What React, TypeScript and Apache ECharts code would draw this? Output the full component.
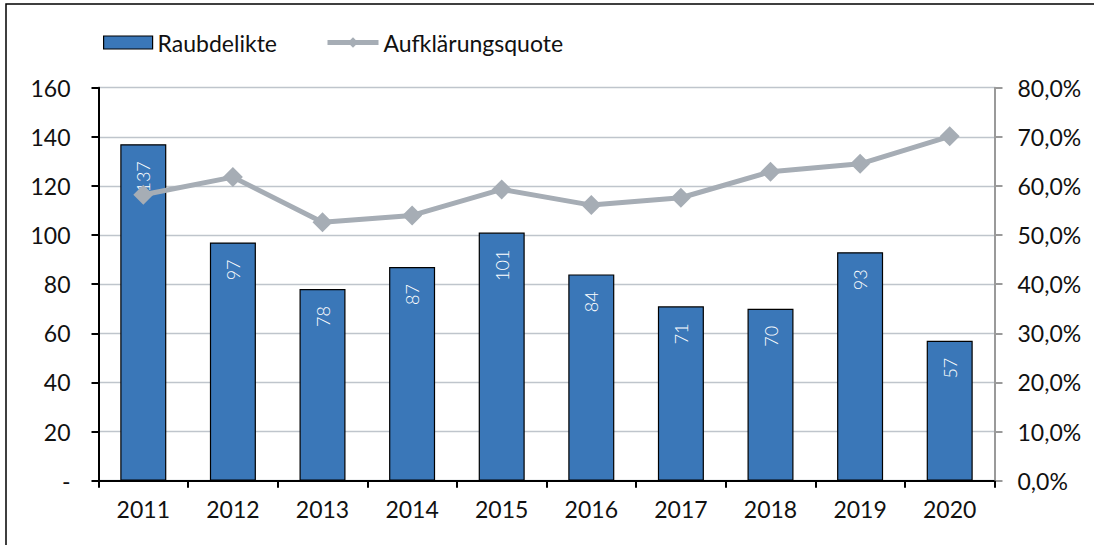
import React, { useEffect, useRef } from "react";
import * as echarts from "echarts";

const years = ["2011", "2012", "2013", "2014", "2015", "2016", "2017", "2018", "2019", "2020"];
const robberies = [137, 97, 78, 87, 101, 84, 71, 70, 93, 57];
const clearanceRate = [58.2, 61.8, 52.6, 54.0, 59.3, 56.1, 57.6, 62.9, 64.5, 70.1];

const FONT = "Lato";
const FS = 23;

export default function App() {
  const ref = useRef<HTMLDivElement>(null);
  useEffect(() => {
    document.body.style.margin = "0";
    const chart = echarts.init(ref.current!, null, { renderer: "svg" });
    chart.setOption({
      animation: false,
      backgroundColor: "#ffffff",
      textStyle: { fontFamily: FONT },
      graphic: [
        {
          type: "rect",
          shape: { x: 6, y: 4, width: 1200, height: 700 },
          style: { fill: "none", stroke: "#000000", lineWidth: 1.5 },
          silent: true,
          z: -10,
        },
      ],
      legend: [
        {
          data: [
            {
              name: "Raubdelikte",
              icon: "rect",
              itemStyle: { color: "#3A77B8", borderColor: "#000000", borderWidth: 1.2 },
            },
          ],
          left: 98,
          top: 26,
          itemWidth: 49,
          itemHeight: 13,
          textStyle: { fontFamily: FONT, fontSize: FS, color: "#111" },
        },
        {
          data: [{ name: "Aufklärungsquote", lineStyle: { width: 5, color: "#A6ADB5" } }],
          left: 320,
          top: 26,
          itemWidth: 51,
          itemHeight: 13,
          textStyle: { fontFamily: FONT, fontSize: FS, color: "#111" },
        },
      ],
      grid: { left: 98.5, right: 99.5, top: 87.7, bottom: 64.3, containLabel: false },
      xAxis: {
        type: "category",
        data: years,
        boundaryGap: true,
        axisLine: { lineStyle: { color: "#000", width: 2 } },
        axisTick: { show: true, length: 7, lineStyle: { color: "#000", width: 2 }, alignWithLabel: false },
        axisLabel: { fontFamily: FONT, fontSize: FS, color: "#111", margin: 17 },
      },
      yAxis: [
        {
          type: "value",
          min: 0,
          max: 160,
          interval: 20,
          axisLine: { show: true, lineStyle: { color: "#000", width: 2 } },
          axisTick: { show: true, length: 7, lineStyle: { color: "#000", width: 2 } },
          splitLine: { show: true, lineStyle: { color: "#BFC5CC", width: 1.3 } },
          axisLabel: {
            fontFamily: FONT,
            fontSize: FS,
            color: "#111",
            margin: 28,
            formatter: (v: number) => (v === 0 ? "-" : String(v)),
          },
        },
        {
          type: "value",
          min: 0,
          max: 80,
          interval: 10,
          position: "right",
          axisLine: { show: true, lineStyle: { color: "#9A9A9A", width: 2 } },
          axisTick: { show: true, length: 8, lineStyle: { color: "#9A9A9A", width: 2 } },
          splitLine: { show: false },
          axisLabel: {
            fontFamily: FONT,
            fontSize: FS,
            color: "#111",
            margin: 23,
            formatter: (v: number) => v.toFixed(1).replace(".", ",") + "%",
          },
        },
      ],
      series: [
        {
          name: "Raubdelikte",
          type: "bar",
          data: robberies,
          barWidth: 46,
          z: 2,
          itemStyle: { color: "#3A77B8", borderColor: "#000", borderWidth: 1.2 },
          label: {
            show: true,
            position: "insideTop",
            rotate: 90,
            align: "right",
            verticalAlign: "middle",
            distance: 17,
            fontFamily: FONT,
            fontSize: 18,
            fontWeight: 300,
            color: "#ffffff",
          },
        },
        {
          name: "Aufklärungsquote",
          type: "line",
          yAxisIndex: 1,
          data: clearanceRate,
          z: 5,
          symbol: "diamond",
          symbolSize: 20,
          lineStyle: { color: "#A6ADB5", width: 5 },
          itemStyle: { color: "#A6ADB5" },
        },
      ],
    });
    return () => chart.dispose();
  }, []);
  return <div ref={ref} style={{ position: "absolute", left: 0, top: 0, width: 1094, height: 545 }} />;
}
